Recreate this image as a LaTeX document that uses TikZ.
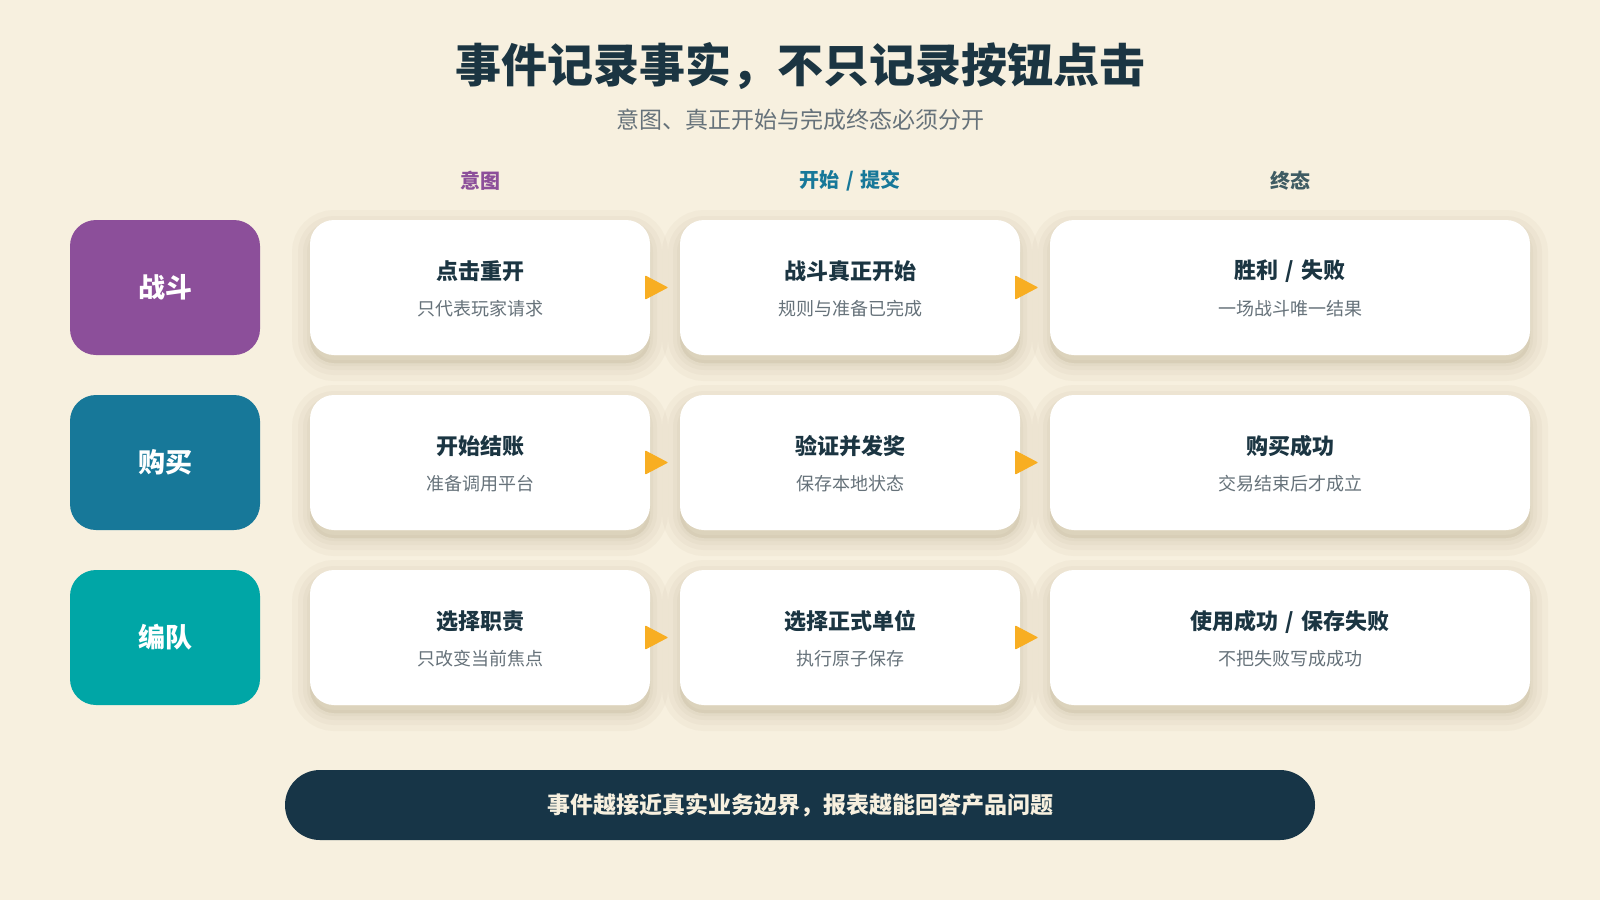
\documentclass[tikz,border=0pt]{standalone}
\usepackage{fontspec}
\setmainfont{Noto Sans CJK SC}
\usepackage{xcolor}
\usetikzlibrary{arrows.meta, positioning, calc}
\definecolor{creambg}{HTML}{F7F0DF}
\definecolor{inkslate}{HTML}{1B3542}
\definecolor{mutedgray}{HTML}{66727A}
\definecolor{headslate}{HTML}{3F5C63}
\definecolor{battlepurple}{HTML}{8C4F9A}
\definecolor{shopblue}{HTML}{177899}
\definecolor{squadteal}{HTML}{00A6A6}
\definecolor{tipamber}{HTML}{F8AE22}
\definecolor{barnavy}{HTML}{173547}
\definecolor{cardshade}{HTML}{7A6A40}

\tikzset{
  rowlabel/.style={rounded corners=13pt, minimum width=95pt, minimum height=67.5pt,
    text=white, font=\fontsize{13.5}{16}\selectfont\bfseries},
  shadelayer/.style={fill=cardshade, draw=cardshade, fill opacity=0.025, draw opacity=0.04,
    line width=#1, transform canvas={yshift=-4pt}},
  eventcard/.style={fill=white, rounded corners=12pt, minimum height=67.5pt,
    preaction={shadelayer=18pt}, preaction={shadelayer=12pt},
    preaction={shadelayer=7pt}, preaction={shadelayer=3pt}},
  colhead/.style={font=\fontsize{10}{12}\selectfont\bfseries},
  cardtitle/.style={font=\fontsize{11}{13}\selectfont\bfseries, text=inkslate},
  cardnote/.style={font=\fontsize{9}{11}\selectfont, text=mutedgray},
  flowtip/.style={draw=tipamber, fill=tipamber, line width=0.5pt,
    -{Triangle[length=11.5pt, width=12pt, round]}, shorten <=-2.5pt, shorten >=6pt}
}
\newcommand{\slashsep}{\hspace{0.35em}/\hspace{0.35em}}

\begin{document}
\begin{tikzpicture}[x=0.5pt, y=-0.5pt]
  % Canvas
  \useasboundingbox (0,0) rectangle (1600,900);
  \fill[creambg] (0,0) rectangle (1600,900);

  % Heading
  \node[font=\fontsize{23}{28}\selectfont\bfseries, text=inkslate] (title) at (800,66) {事件记录事实，不只记录按钮点击};
  \node[font=\fontsize{11.5}{14}\selectfont, text=mutedgray] (subtitle) at (800,120) {意图、真正开始与完成终态必须分开};

  % Column headers
  \node[colhead, text=battlepurple] (head-intent) at (480,181) {意图};
  \node[colhead, text=shopblue] (head-start) at (850,181) {开始\slashsep 提交};
  \node[colhead, text=headslate] (head-final) at (1290,181) {终态};

  % Row labels
  \node[rowlabel, fill=battlepurple] (row-fight) at (165,287.5) {战斗};
  \node[rowlabel, fill=shopblue] (row-buy) at (165,462.5) {购买};
  \node[rowlabel, fill=squadteal] (row-squad) at (165,637.5) {编队};

  % Battle row
  \node[eventcard, minimum width=170pt] (fight-intent) at (480,287.5) {};
  \node[cardtitle] (fight-intent-t) at ([yshift=8pt]fight-intent.center) {点击重开};
  \node[cardnote] (fight-intent-n) at ([yshift=-10.5pt]fight-intent.center) {只代表玩家请求};
  \node[eventcard, minimum width=170pt] (fight-start) at (850,287.5) {};
  \node[cardtitle] (fight-start-t) at ([yshift=8pt]fight-start.center) {战斗真正开始};
  \node[cardnote] (fight-start-n) at ([yshift=-10.5pt]fight-start.center) {规则与准备已完成};
  \node[eventcard, minimum width=240pt] (fight-final) at (1290,287.5) {};
  \node[cardtitle] (fight-final-t) at ([yshift=8pt]fight-final.center) {胜利\slashsep 失败};
  \node[cardnote] (fight-final-n) at ([yshift=-10.5pt]fight-final.center) {一场战斗唯一结果};

  % Purchase row
  \node[eventcard, minimum width=170pt] (buy-intent) at (480,462.5) {};
  \node[cardtitle] (buy-intent-t) at ([yshift=8pt]buy-intent.center) {开始结账};
  \node[cardnote] (buy-intent-n) at ([yshift=-10.5pt]buy-intent.center) {准备调用平台};
  \node[eventcard, minimum width=170pt] (buy-start) at (850,462.5) {};
  \node[cardtitle] (buy-start-t) at ([yshift=8pt]buy-start.center) {验证并发奖};
  \node[cardnote] (buy-start-n) at ([yshift=-10.5pt]buy-start.center) {保存本地状态};
  \node[eventcard, minimum width=240pt] (buy-final) at (1290,462.5) {};
  \node[cardtitle] (buy-final-t) at ([yshift=8pt]buy-final.center) {购买成功};
  \node[cardnote] (buy-final-n) at ([yshift=-10.5pt]buy-final.center) {交易结束后才成立};

  % Squad row
  \node[eventcard, minimum width=170pt] (squad-intent) at (480,637.5) {};
  \node[cardtitle] (squad-intent-t) at ([yshift=8pt]squad-intent.center) {选择职责};
  \node[cardnote] (squad-intent-n) at ([yshift=-10.5pt]squad-intent.center) {只改变当前焦点};
  \node[eventcard, minimum width=170pt] (squad-start) at (850,637.5) {};
  \node[cardtitle] (squad-start-t) at ([yshift=8pt]squad-start.center) {选择正式单位};
  \node[cardnote] (squad-start-n) at ([yshift=-10.5pt]squad-start.center) {执行原子保存};
  \node[eventcard, minimum width=240pt] (squad-final) at (1290,637.5) {};
  \node[cardtitle] (squad-final-t) at ([yshift=8pt]squad-final.center) {使用成功\slashsep 保存失败};
  \node[cardnote] (squad-final-n) at ([yshift=-10.5pt]squad-final.center) {不把失败写成成功};

  % Flow arrows
  \draw[flowtip] (fight-intent.east) -- (fight-start.west);
  \draw[flowtip] (fight-start.east) -- (fight-final.west);
  \draw[flowtip] (buy-intent.east) -- (buy-start.west);
  \draw[flowtip] (buy-start.east) -- (buy-final.west);
  \draw[flowtip] (squad-intent.east) -- (squad-start.west);
  \draw[flowtip] (squad-start.east) -- (squad-final.west);

  % Takeaway bar
  \node[fill=barnavy, rounded corners=17.5pt, minimum width=515pt, minimum height=35pt,
    text=creambg, font=\fontsize{11.5}{14}\selectfont\bfseries] (takeaway) at (800,805) {事件越接近真实业务边界，报表越能回答产品问题};
\end{tikzpicture}
\end{document}
